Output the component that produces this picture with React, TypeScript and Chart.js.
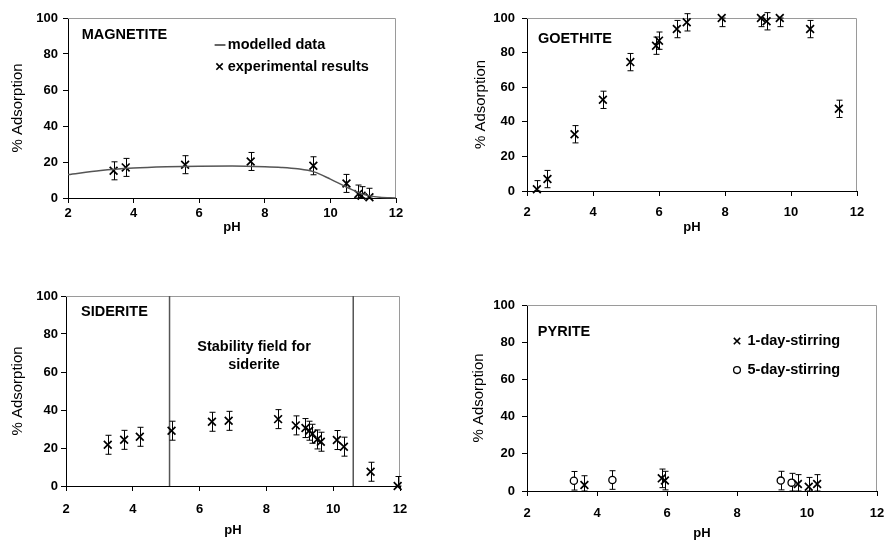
import React, { useEffect, useRef } from "react";
import { Chart, registerables } from "chart.js";

Chart.register(...registerables);

const FONT = "'Liberation Sans', Arial, Helvetica, sans-serif";

// ---------- data ----------
const xTicksMin = 2;
const xTicksMax = 12;
const ERR = 5;

const magnetitePH = [3.39, 3.76, 5.57, 7.57, 9.48, 10.49, 10.85, 10.95, 11.19];
const magnetiteAds = [15.1, 17.0, 18.5, 20.3, 17.9, 8.1, 2.2, 1.3, 0.4];
const magnetiteModelPH = [2, 3, 4, 5, 6, 7, 8, 8.5, 9, 9.5, 10, 10.5, 11, 11.5, 12];
const magnetiteModelAds = [13.0, 15.3, 16.6, 17.3, 17.7, 17.8, 17.4, 17.0, 16.2, 14.5, 10.5, 6.0, 2.0, 0.4, 0];

const goethitePH = [2.3, 2.62, 3.44, 4.3, 5.13, 5.91, 6.0, 6.54, 6.84, 7.9, 9.09, 9.26, 9.66, 10.58, 11.45];
const goethiteAds = [1.0, 6.9, 32.8, 52.7, 74.5, 84.0, 86.9, 93.6, 97.5, 100, 100, 98.1, 100, 93.6, 47.5];

const sideritePH = [3.25, 3.74, 4.21, 5.16, 6.37, 6.87, 8.35, 8.88, 9.17, 9.28, 9.38, 9.52, 9.63, 10.11, 10.32, 11.12, 11.93];
const sideriteAds = [21.7, 24.3, 25.9, 29.1, 33.8, 34.3, 35.2, 31.9, 30.5, 29.1, 27.5, 24.5, 23.3, 24.2, 20.7, 7.5, 0];
const sideriteStabilityBounds = [5.1, 10.6];

const pyrite1DayPH = [3.64, 5.85, 5.94, 9.74, 10.05, 10.29];
const pyrite1DayAds = [3.2, 6.8, 5.6, 3.8, 2.3, 3.8];
const pyrite5DayPH = [3.34, 4.44, 9.25, 9.56];
const pyrite5DayAds = [5.5, 5.9, 5.6, 4.5];

const pts = (xs: number[], ys: number[]) => xs.map((x, i) => ({ x, y: ys[i] }));
const errs = (ys: number[]) => ys.map(() => ERR);

// ---------- styles ----------
const crossStyle = {
  pointStyle: "crossRot",
  pointRadius: 5.5,
  pointHoverRadius: 5.5,
  borderColor: "#000",
  backgroundColor: "#000",
  borderWidth: 1.7,
  showLine: false,
  clip: false,
};
const circleStyle = {
  pointStyle: "circle",
  pointRadius: 3.6,
  pointHoverRadius: 3.6,
  borderColor: "#000",
  backgroundColor: "#fff",
  borderWidth: 1.3,
  showLine: false,
  clip: false,
};

function drawCross(ctx: CanvasRenderingContext2D, x: number, y: number, r: number) {
  const o = r * Math.SQRT1_2;
  ctx.save();
  ctx.strokeStyle = "#000";
  ctx.lineWidth = 1.6;
  ctx.beginPath();
  ctx.moveTo(x - o, y - o);
  ctx.lineTo(x + o, y + o);
  ctx.moveTo(x - o, y + o);
  ctx.lineTo(x + o, y - o);
  ctx.stroke();
  ctx.restore();
}

function makeDecor(cfg: any) {
  return {
    id: "decor",
    beforeDatasetsDraw(chart: any) {
      const { ctx, chartArea: a, scales } = chart;
      ctx.save();
      // grey frame top + right
      ctx.strokeStyle = "#9a9a9a";
      ctx.lineWidth = 1;
      ctx.beginPath();
      ctx.moveTo(a.left, a.top + 0.5);
      ctx.lineTo(a.right - 0.5, a.top + 0.5);
      ctx.lineTo(a.right - 0.5, a.bottom);
      ctx.stroke();
      // vertical boundary lines
      (cfg.vlines || []).forEach((v: number) => {
        const x = scales.x.getPixelForValue(v);
        ctx.strokeStyle = "#555";
        ctx.lineWidth = 1.5;
        ctx.beginPath();
        ctx.moveTo(x, scales.y.getPixelForValue(100));
        ctx.lineTo(x, scales.y.getPixelForValue(0));
        ctx.stroke();
      });
      // error bars
      chart.data.datasets.forEach((ds: any) => {
        if (!ds.err) return;
        ds.data.forEach((d: any, j: number) => {
          const e = ds.err[j];
          const top = d.y >= 100 ? d.y : d.y + e;
          const bot = Math.max(0, d.y - e);
          const x = Math.round(scales.x.getPixelForValue(d.x)) + 0.5;
          const y1 = scales.y.getPixelForValue(top);
          const y2 = scales.y.getPixelForValue(bot);
          ctx.strokeStyle = "#000";
          ctx.lineWidth = 1;
          ctx.beginPath();
          ctx.moveTo(x, y1);
          ctx.lineTo(x, y2);
          ctx.moveTo(x - 3, y1);
          ctx.lineTo(x + 3, y1);
          ctx.moveTo(x - 3, y2);
          ctx.lineTo(x + 3, y2);
          ctx.stroke();
        });
      });
      ctx.restore();
    },
    afterDraw(chart: any) {
      const { ctx, scales } = chart;
      ctx.save();
      (cfg.decor || []).forEach((d: any) => {
        const px = (v: number) => scales.x.getPixelForValue(v);
        const py = (v: number) => scales.y.getPixelForValue(v);
        if (d.kind === "text") {
          ctx.fillStyle = "#000";
          ctx.font = `${d.weight || "bold"} ${d.size || 14.5}px ${FONT}`;
          ctx.textAlign = d.align || "left";
          ctx.textBaseline = "middle";
          ctx.fillText(d.text, px(d.x), py(d.y));
        } else if (d.kind === "dash") {
          ctx.strokeStyle = "#333";
          ctx.lineWidth = 1.5;
          ctx.beginPath();
          ctx.moveTo(px(d.x1), py(d.y));
          ctx.lineTo(px(d.x2), py(d.y));
          ctx.stroke();
        } else if (d.kind === "cross") {
          drawCross(ctx, px(d.x), py(d.y), 4.5);
        } else if (d.kind === "circle") {
          ctx.strokeStyle = "#000";
          ctx.fillStyle = "#fff";
          ctx.lineWidth = 1.3;
          ctx.beginPath();
          ctx.arc(px(d.x), py(d.y), 3.4, 0, Math.PI * 2);
          ctx.fill();
          ctx.stroke();
        }
      });
      ctx.restore();
    },
  };
}

function makeScales(cfg: any) {
  const tickFont = { family: FONT, size: 13, weight: "bold" as const };
  const grid = { display: true, drawOnChartArea: false, drawTicks: true, tickLength: 5, color: "#000", lineWidth: 1 };
  return {
    x: {
      type: "linear" as const,
      min: xTicksMin,
      max: xTicksMax,
      afterFit: (s: any) => {
        s.height = cfg.xH;
      },
      ticks: { stepSize: 2, font: tickFont, color: "#000", padding: cfg.xTickPad, maxRotation: 0 },
      grid,
      border: { display: true, color: "#000", width: 1 },
      title: {
        display: true,
        text: "pH",
        color: "#000",
        font: { family: FONT, size: 13, weight: "bold" as const },
        padding: { top: 0, bottom: cfg.xTitlePad },
      },
    },
    y: {
      type: "linear" as const,
      min: 0,
      max: 100,
      afterFit: (s: any) => {
        s.width = cfg.yW;
      },
      ticks: { stepSize: 20, font: tickFont, color: "#000", padding: cfg.yTickPad },
      grid,
      border: { display: true, color: "#000", width: 1 },
      title: {
        display: true,
        text: "% Adsorption",
        color: "#000",
        font: { family: FONT, size: 15, weight: "normal" as const },
        padding: { top: cfg.yTitlePad, bottom: 0 },
      },
    },
  };
}

const PAD_RIGHT = 22;

const panels: any[] = [
  {
    key: "magnetite",
    left: 0, top: 0, width: 396 + PAD_RIGHT, height: 240,
    yW: 68, xH: 42, padTop: 18,
    xTickPad: 3, yTickPad: 5, xTitlePad: 5, yTitlePad: 9,
    datasets: [
      {
        label: "modelled data",
        data: pts(magnetiteModelPH, magnetiteModelAds),
        showLine: true,
        borderColor: "#555",
        borderWidth: 1.5,
        pointRadius: 0,
        cubicInterpolationMode: "monotone",
        clip: false,
      },
      { label: "experimental results", data: pts(magnetitePH, magnetiteAds), err: errs(magnetiteAds), ...crossStyle },
    ],
    decor: [
      { kind: "text", text: "MAGNETITE", x: 2.42, y: 90.6 },
      { kind: "dash", x1: 6.47, x2: 6.8, y: 85 },
      { kind: "text", text: "modelled data", x: 6.87, y: 85 },
      { kind: "cross", x: 6.62, y: 73 },
      { kind: "text", text: "experimental results", x: 6.87, y: 73 },
    ],
  },
  {
    key: "goethite",
    left: 440, top: 0, width: 857 - 440 + PAD_RIGHT, height: 240,
    yW: 87, xH: 49, padTop: 18,
    xTickPad: 9, yTickPad: 7, xTitlePad: 5, yTitlePad: 32,
    datasets: [{ label: "goethite", data: pts(goethitePH, goethiteAds), err: errs(goethiteAds), ...crossStyle }],
    decor: [{ kind: "text", text: "GOETHITE", x: 2.33, y: 87.9 }],
  },
  {
    key: "siderite",
    left: 0, top: 275, width: 400 + PAD_RIGHT, height: 266,
    yW: 66, xH: 55, padTop: 21,
    xTickPad: 11, yTickPad: 3, xTitlePad: 3, yTitlePad: 9,
    vlines: sideriteStabilityBounds,
    datasets: [{ label: "siderite", data: pts(sideritePH, sideriteAds), err: errs(sideriteAds), ...crossStyle }],
    decor: [
      { kind: "text", text: "SIDERITE", x: 2.45, y: 91.6 },
      { kind: "text", text: "Stability field for", x: 7.63, y: 73.2, align: "center" },
      { kind: "text", text: "siderite", x: 7.63, y: 63.7, align: "center" },
    ],
  },
  {
    key: "pyrite",
    left: 440, top: 285, width: 877 - 440 + PAD_RIGHT, height: 256,
    yW: 87, xH: 50, padTop: 20,
    xTickPad: 10, yTickPad: 7, xTitlePad: 0, yTitlePad: 30,
    datasets: [
      { label: "1-day-stirring", data: pts(pyrite1DayPH, pyrite1DayAds), err: errs(pyrite1DayAds), ...crossStyle },
      { label: "5-day-stirring", data: pts(pyrite5DayPH, pyrite5DayAds), err: errs(pyrite5DayAds), ...circleStyle },
    ],
    decor: [
      { kind: "text", text: "PYRITE", x: 2.31, y: 85.5 },
      { kind: "cross", x: 8.0, y: 80.6 },
      { kind: "text", text: "1-day-stirring", x: 8.3, y: 80.6 },
      { kind: "circle", x: 8.0, y: 65 },
      { kind: "text", text: "5-day-stirring", x: 8.3, y: 65 },
    ],
  },
];

function Panel({ cfg }: { cfg: any }) {
  const ref = useRef<HTMLCanvasElement | null>(null);
  useEffect(() => {
    if (!ref.current) return;
    const chart = new Chart(ref.current, {
      type: "scatter",
      data: { datasets: cfg.datasets },
      options: {
        animation: false,
        responsive: false,
        maintainAspectRatio: false,
        devicePixelRatio: 1,
        layout: { padding: { top: cfg.padTop, right: PAD_RIGHT, left: 0, bottom: 0 } },
        plugins: { legend: { display: false }, tooltip: { enabled: false } },
        scales: makeScales(cfg),
      } as any,
      plugins: [makeDecor(cfg)],
    });
    return () => chart.destroy();
  }, [cfg]);
  return (
    <canvas
      ref={ref}
      width={cfg.width}
      height={cfg.height}
      style={{ position: "absolute", left: cfg.left, top: cfg.top, width: cfg.width, height: cfg.height }}
    />
  );
}

export default function App() {
  return (
    <div style={{ position: "fixed", left: 0, top: 0, width: 887, height: 541, background: "#fff", overflow: "hidden" }}>
      {panels.map((p) => (
        <Panel key={p.key} cfg={p} />
      ))}
    </div>
  );
}
